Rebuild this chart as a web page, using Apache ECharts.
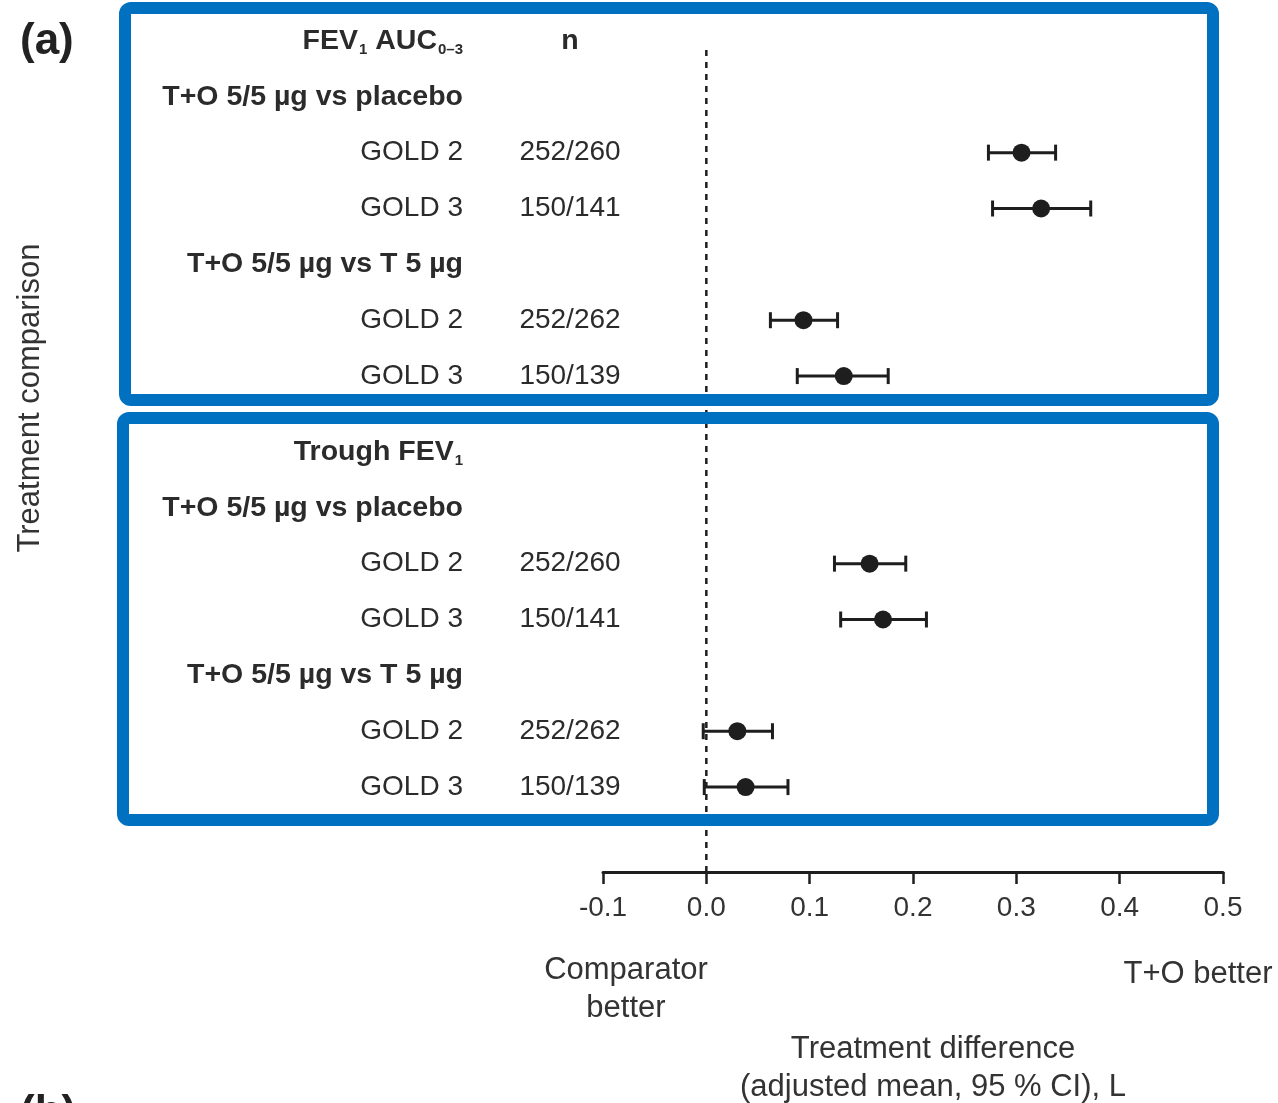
<!DOCTYPE html>
<html>
<head>
<meta charset="utf-8">
<script src="https://cdn.jsdelivr.net/npm/echarts@6/dist/echarts.min.js"></script>
<style>
  html, body { margin: 0; padding: 0; background: #fff; }
  #chart { width: 1278px; height: 1103px; }
</style>
</head>
<body>
<div id="chart"></div>
<script>
// Row labels of each panel (headings + GOLD subgroups) and sample sizes
const rowLabelsAuc = ['{b|FEV}{bs|1}{b| AUC}{bs|0–3}', '{b|T+O 5/5 µg vs placebo}', 'GOLD 2', 'GOLD 3', '{b|T+O 5/5 µg vs T 5 µg}', 'GOLD 2', 'GOLD 3'];
const nAuc = ['{b|n}', '', '252/260', '150/141', '', '252/262', '150/139'];
const rowLabelsTrough = ['{b|Trough FEV}{bs|1}', '{b|T+O 5/5 µg vs placebo}', 'GOLD 2', 'GOLD 3', '{b|T+O 5/5 µg vs T 5 µg}', 'GOLD 2', 'GOLD 3'];
const nTrough = ['', '', '252/260', '150/141', '', '252/262', '150/139'];

// Rows that carry an estimate (index into the row lists above)
const estimateRows = [2, 3, 5, 6];

// FEV1 AUC0-3: adjusted mean difference and 95 % CI, L
const aucMean = [0.305, 0.324, 0.094, 0.133];
const aucLow  = [0.273, 0.277, 0.062, 0.088];
const aucHigh = [0.338, 0.372, 0.127, 0.176];

// Trough FEV1: adjusted mean difference and 95 % CI, L
const troughMean = [0.158, 0.171, 0.030, 0.038];
const troughLow  = [0.124, 0.130, -0.003, -0.002];
const troughHigh = [0.193, 0.213, 0.064, 0.079];

// x-axis scale and tick labels
const xMin = -0.1, xMax = 0.5, xStep = 0.1;
const xTickLabels = ['-0.1', '0.0', '0.1', '0.2', '0.3', '0.4', '0.5'];

const INK = '#1e1e1e';
const TEXT = '#2b2b2b';
const BLUE = '#0070c0';
const FONT = '"Liberation Sans", Arial, Helvetica, sans-serif';

const labelRich = {
  b:  { fontFamily: FONT, fontSize: 28.5, fontWeight: 'bold', color: TEXT },
  bs: { fontFamily: FONT, fontSize: 15, fontWeight: 'bold', color: TEXT, padding: [18, 0, 0, 1] }
};

const rowIdx = ['0', '1', '2', '3', '4', '5', '6'];

function makeCIData(low, high) {
  return estimateRows.map((r, i) => [low[i], high[i], r]);
}
function makePointData(mean) {
  return estimateRows.map((r, i) => [mean[i], r]);
}

function renderCI(params, api) {
  const y = api.value(2);
  const a = api.coord([api.value(0), y]);
  const b = api.coord([api.value(1), y]);
  const cap = 8;
  const st = { stroke: INK, lineWidth: 3 };
  return {
    type: 'group',
    children: [
      { type: 'line', shape: { x1: a[0], y1: a[1], x2: b[0], y2: b[1] }, style: st },
      { type: 'line', shape: { x1: a[0], y1: a[1] - cap, x2: a[0], y2: a[1] + cap }, style: st },
      { type: 'line', shape: { x1: b[0], y1: b[1] - cap, x2: b[0], y2: b[1] + cap }, style: st }
    ]
  };
}

function labelAxis(gridIndex, labels) {
  return {
    type: 'category', gridIndex, data: rowIdx, inverse: true, position: 'left',
    axisLine: { show: false }, axisTick: { show: false }, splitLine: { show: false },
    axisLabel: {
      margin: 140, align: 'right', interval: 0,
      fontFamily: FONT, fontSize: 28, color: TEXT,
      formatter: (v, i) => labels[i], rich: labelRich
    }
  };
}
function nAxis(gridIndex, ns) {
  return {
    type: 'category', gridIndex, data: rowIdx, inverse: true, position: 'left',
    axisLine: { show: false }, axisTick: { show: false }, splitLine: { show: false },
    axisLabel: {
      margin: 33, align: 'center', interval: 0,
      fontFamily: FONT, fontSize: 28, color: TEXT,
      formatter: (v, i) => ns[i], rich: labelRich
    }
  };
}
function hiddenX(gridIndex) {
  return { type: 'value', gridIndex, min: xMin, max: xMax, interval: xStep, show: false };
}

const chart = echarts.init(document.getElementById('chart'), null, { renderer: 'canvas' });

chart.setOption({
  animation: false,
  backgroundColor: '#ffffff',
  grid: [
    { left: 603, right: 55, top: 13, height: 391 },
    { left: 603, right: 55, top: 424, height: 391 },
    { left: 603, right: 55, top: 47, height: 825 }
  ],
  xAxis: [
    hiddenX(0),
    {
      type: 'value', gridIndex: 1, min: xMin, max: xMax, interval: xStep,
      position: 'bottom', offset: 57,
      axisLine: { show: true, lineStyle: { color: INK, width: 3 } },
      axisTick: { show: true, length: 12, lineStyle: { color: INK, width: 2.5 } },
      splitLine: { show: false },
      axisLabel: {
        margin: 22, fontFamily: FONT, fontSize: 28, color: '#333',
        formatter: (v) => xTickLabels[Math.round((v - xMin) / xStep)]
      }
    },
    hiddenX(2)
  ],
  yAxis: [
    labelAxis(0, rowLabelsAuc),
    nAxis(0, nAuc),
    labelAxis(1, rowLabelsTrough),
    nAxis(1, nTrough),
    { type: 'value', gridIndex: 2, min: 0, max: 1, show: false }
  ],
  series: [
    // zero reference line
    {
      type: 'line', xAxisIndex: 2, yAxisIndex: 4, data: [[0, 0], [0, 1]],
      symbol: 'none', silent: true, z: 1,
      lineStyle: { color: INK, width: 2.5, type: [6, 6] }
    },
    { type: 'custom', xAxisIndex: 0, yAxisIndex: 0, renderItem: renderCI, encode: { x: [0, 1], y: 2 }, data: makeCIData(aucLow, aucHigh), z: 3 },
    { type: 'scatter', xAxisIndex: 0, yAxisIndex: 0, data: makePointData(aucMean), symbolSize: 18, itemStyle: { color: INK, opacity: 1 }, z: 4 },
    { type: 'custom', xAxisIndex: 1, yAxisIndex: 2, renderItem: renderCI, encode: { x: [0, 1], y: 2 }, data: makeCIData(troughLow, troughHigh), z: 3 },
    { type: 'scatter', xAxisIndex: 1, yAxisIndex: 2, data: makePointData(troughMean), symbolSize: 18, itemStyle: { color: INK, opacity: 1 }, z: 4 }
  ],
  graphic: [
    // panel frames
    { type: 'rect', z: 100, shape: { x: 125, y: 8, width: 1088, height: 392, r: 6 }, style: { fill: 'none', stroke: BLUE, lineWidth: 12 } },
    { type: 'rect', z: 100, shape: { x: 123, y: 418, width: 1090, height: 402, r: 6 }, style: { fill: 'none', stroke: BLUE, lineWidth: 12 } },
    { type: 'text', left: 20, top: 20, style: { text: '(a)', fontFamily: FONT, fontSize: 44, fontWeight: 'bold', fill: '#222' } },
    { type: 'text', left: 20, top: 1092, style: { text: '(b)', fontFamily: FONT, fontSize: 44, fontWeight: 'bold', fill: '#222' } },
    {
      type: 'text', x: 30, y: 398, rotation: Math.PI / 2,
      style: { text: 'Treatment comparison', fontFamily: FONT, fontSize: 31, fill: '#333', align: 'center', verticalAlign: 'middle' }
    },
    {
      type: 'text', x: 626, y: 989,
      style: { text: 'Comparator\nbetter', fontFamily: FONT, fontSize: 31, lineHeight: 38, fill: '#333', align: 'center', verticalAlign: 'middle' }
    },
    {
      type: 'text', x: 1198, y: 974,
      style: { text: 'T+O better', fontFamily: FONT, fontSize: 31, fill: '#333', align: 'center', verticalAlign: 'middle' }
    },
    {
      type: 'text', x: 933, y: 1068,
      style: { text: 'Treatment difference\n(adjusted mean, 95 % CI), L', fontFamily: FONT, fontSize: 31, lineHeight: 38, fill: '#333', align: 'center', verticalAlign: 'middle' }
    }
  ]
});
</script>
</body>
</html>
